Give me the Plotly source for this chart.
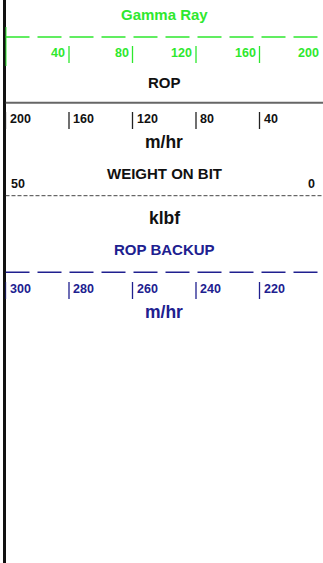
import plotly.graph_objects as go

W, H = 323, 563

# Track scales and tick values
gr_range = [0, 200]
gr_ticks = [40, 80, 120, 160, 200]

rop_range = [200, 0]
rop_ticks = [200, 160, 120, 80, 40]

wob_range = [50, 0]
wob_ends = [50, 0]

ropb_range = [300, 200]
ropb_ticks = [300, 280, 260, 240, 220]

GREEN = "#2ee82e"
NAVY = "#20208f"
BLACK = "#111111"

FONT = "Arial, 'Liberation Sans', Helvetica, sans-serif"
TITLE_SIZE = 15
UNIT_SIZE = 17.5
TICK_SIZE = 12.5

fig = go.Figure()

x0_frac = 5.5 / W
axes = {
    "xaxis": dict(range=gr_range, domain=[x0_frac, 1]),
    "xaxis2": dict(range=rop_range, overlaying="x"),
    "xaxis3": dict(range=wob_range, overlaying="x"),
    "xaxis4": dict(range=ropb_range, overlaying="x"),
}
for k, v in axes.items():
    v.update(visible=False, fixedrange=True, autorange=False)

# header rows (vertical positions in pixels from the top)
rows = {
    "gr": dict(title=14, line=37, tick=(46, 63), label=53),
    "rop": dict(title=82.5, line=102.7, tick=(112, 129), label=119, unit=142),
    "wob": dict(title=173, line=195.7, label=184, unit=217.5),
    "ropb": dict(title=249.5, line=272.3, tick=(282, 299), label=288.5, unit=311.5),
}


def tick_trace(vals, top, bot, color, xa, width=1.3):
    xs, ys = [], []
    for v in vals:
        xs += [v, v, None]
        ys += [top, bot, None]
    return go.Scatter(x=xs, y=ys, xaxis=xa, yaxis="y", mode="lines",
                      line=dict(color=color, width=width), hoverinfo="skip",
                      showlegend=False)


def scale_line(rng, yv, color, xa, dash, width):
    return go.Scatter(x=rng, y=[yv, yv], xaxis=xa, yaxis="y", mode="lines",
                      line=dict(color=color, width=width, dash=dash),
                      hoverinfo="skip", showlegend=False)


annotations = []


def title(text, yv, color, size=TITLE_SIZE):
    annotations.append(dict(text=f"<b>{text}</b>", x=0.5, xref="x domain", y=yv, yref="y",
                            xanchor="center", yanchor="middle", showarrow=False,
                            font=dict(family=FONT, size=size, color=color)))


def tick_labels(vals, yv, color, xref, side):
    for v in vals:
        annotations.append(dict(text=f"<b>{v}</b>", x=v, xref=xref, y=yv, yref="y",
                                xanchor="right" if side == "left" else "left",
                                xshift=-2 if side == "left" else 2,
                                yanchor="middle", showarrow=False,
                                font=dict(family=FONT, size=TICK_SIZE, color=color)))


# Gamma Ray
r = rows["gr"]
fig.add_trace(scale_line(gr_range, r["line"], GREEN, "x", "24px,8px", 1.5))
fig.add_trace(tick_trace([v for v in gr_ticks if v != gr_range[1]], r["tick"][0], r["tick"][1], GREEN, "x"))
fig.add_trace(tick_trace([gr_range[0]], 27, 66, GREEN, "x", width=2))
title("Gamma Ray", r["title"], GREEN)
tick_labels(gr_ticks, r["label"], GREEN, "x", "left")

# ROP
r = rows["rop"]
fig.add_trace(scale_line(rop_range, r["line"], "#666666", "x2", "solid", 2))
fig.add_trace(tick_trace(rop_ticks, r["tick"][0], r["tick"][1], "#222222", "x2"))
title("ROP", r["title"], BLACK)
tick_labels(rop_ticks, r["label"], BLACK, "x2", "right")
title("m/hr", r["unit"], BLACK, size=UNIT_SIZE)

# Weight on bit
r = rows["wob"]
fig.add_trace(scale_line(wob_range, r["line"], "#444444", "x3", "4px,2px", 1))
title("WEIGHT ON BIT", r["title"], BLACK)
annotations.append(dict(text=f"<b>{wob_ends[0]}</b>", x=wob_ends[0], xref="x3", y=r["label"], yref="y",
                        xanchor="left", xshift=3, yanchor="middle", showarrow=False,
                        font=dict(family=FONT, size=TICK_SIZE, color=BLACK)))
annotations.append(dict(text=f"<b>{wob_ends[1]}</b>", x=wob_ends[1], xref="x3", y=r["label"], yref="y",
                        xanchor="right", xshift=-6, yanchor="middle", showarrow=False,
                        font=dict(family=FONT, size=TICK_SIZE, color=BLACK)))
title("klbf", r["unit"], BLACK, size=UNIT_SIZE)

# ROP backup
r = rows["ropb"]
fig.add_trace(scale_line(ropb_range, r["line"], NAVY, "x4", "24px,8px", 1.5))
fig.add_trace(tick_trace(ropb_ticks, r["tick"][0], r["tick"][1], NAVY, "x4"))
title("ROP BACKUP", r["title"], NAVY)
tick_labels(ropb_ticks, r["label"], NAVY, "x4", "right")
title("m/hr", r["unit"], NAVY, size=UNIT_SIZE)

fig.update_layout(
    width=W, height=H,
    margin=dict(l=0, r=0, t=0, b=0),
    paper_bgcolor="white", plot_bgcolor="white",
    yaxis=dict(range=[H, 0], domain=[0, 1], visible=False, fixedrange=True, autorange=False),
    annotations=annotations,
    shapes=[dict(type="line", xref="paper", yref="paper", x0=4.5 / W, x1=4.5 / W, y0=0, y1=1,
                 line=dict(color=BLACK, width=3), layer="below")],
    showlegend=False,
    **axes,
)

fig.write_html("out.html", config={"displayModeBar": False})
